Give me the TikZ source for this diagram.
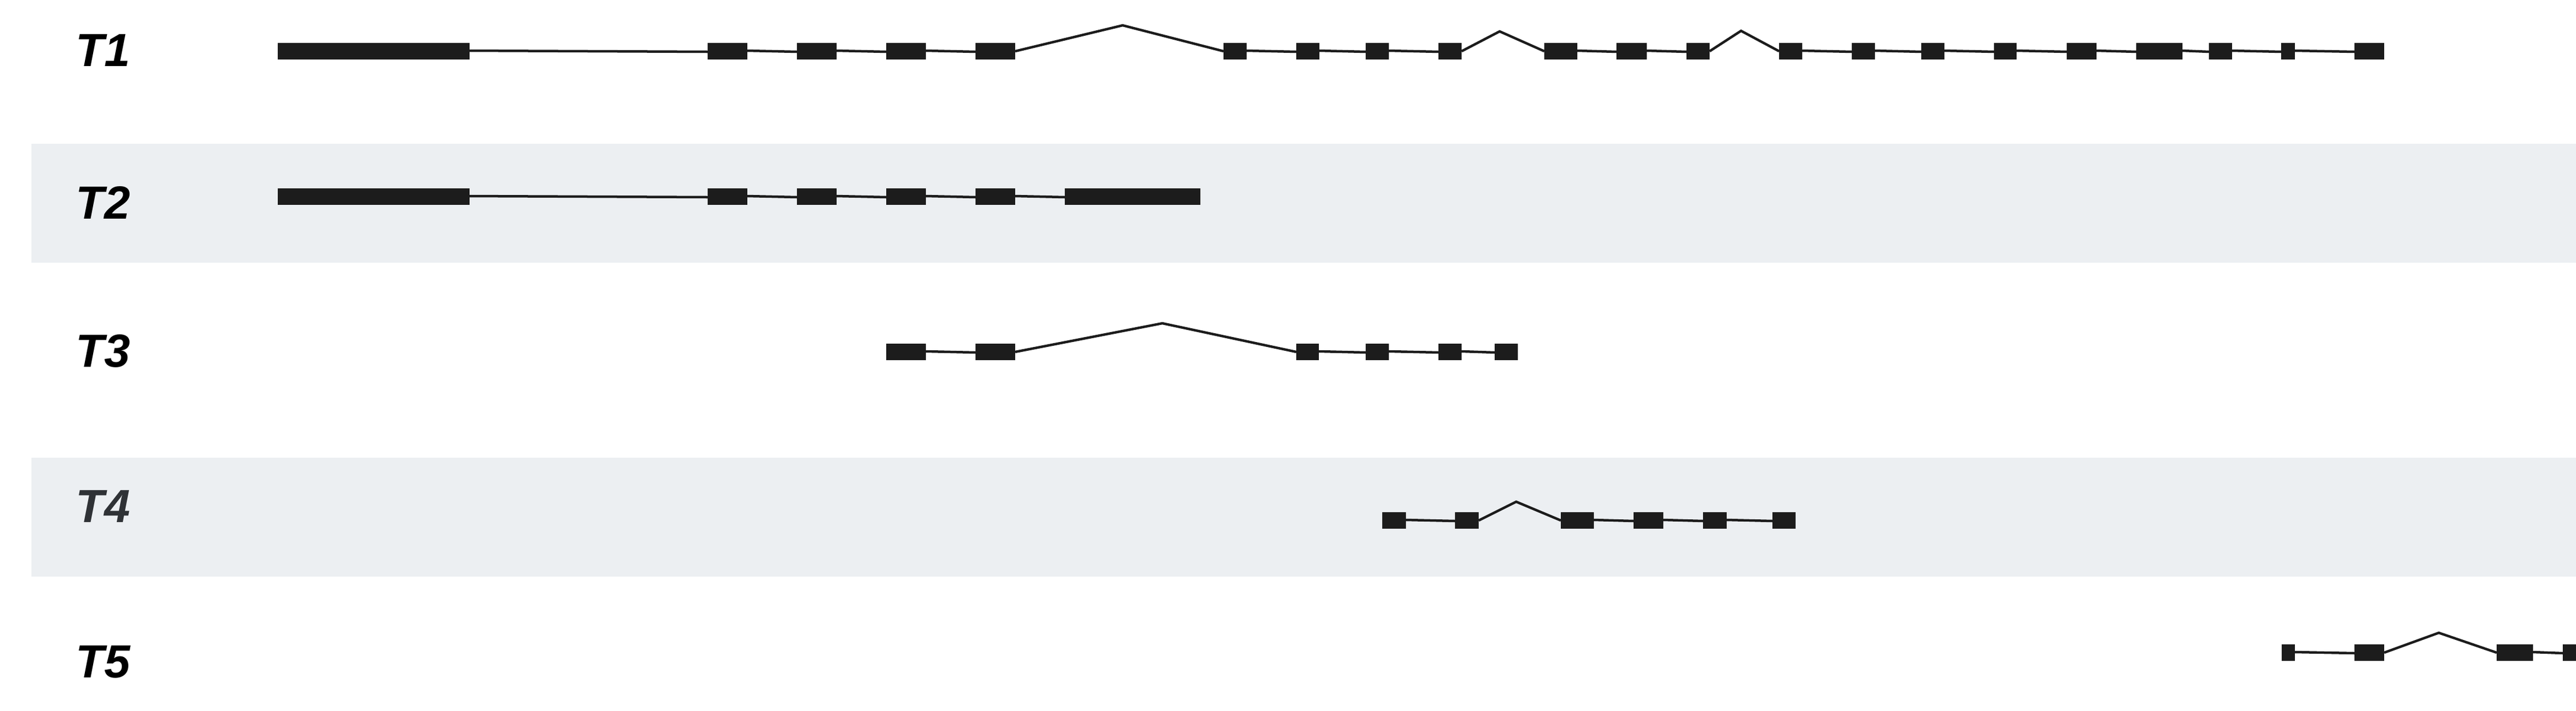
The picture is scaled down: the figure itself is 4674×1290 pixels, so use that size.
\documentclass[tikz,border=0pt]{standalone}
\usepackage{fontspec}
\setmainfont{Liberation Sans}
\definecolor{bandcol}{HTML}{ECEFF2}
\definecolor{exoncol}{HTML}{1C1C1C}
\definecolor{tfourcol}{HTML}{2F3236}
\tikzset{
  exonbox/.style={rectangle, fill=exoncol, draw=none, inner sep=0pt, outer sep=0pt, minimum height=0.3cm},
  intron/.style={draw=exoncol, line width=0.045cm},
  tlabel/.style={anchor=base west, inner sep=0pt, font=\fontsize{24}{29}\selectfont\bfseries\itshape},
  bandfill/.style={fill=bandcol, draw=none}
}
\newcommand\mkexon[4]{\node[exonbox, minimum width={(#3-#2)*0.01cm}] (#1) at ({(#2+#3)/2},#4) {};}
\newcommand\intr[2]{\draw[intron] ([yshift=0.01cm]#1.east) -- ([yshift=-0.01cm]#2.west);}
\newcommand\pkintron[4]{\coordinate (#1) at (#2); \draw[intron] (#3.east) -- (#1) -- (#4.west);}
\begin{document}
\begin{tikzpicture}[x=0.01cm,y=-0.01cm]
\useasboundingbox (0,0) rectangle (4674,1290);
\clip (0,0) rectangle (4674,1290);
\fill[white] (0,0) rectangle (4674,1290);
% bands
\fill[bandfill] (57,261) rectangle (4674,477);
\fill[bandfill] (57,831) rectangle (4674,1047);
% labels
\node[tlabel] (l1) at (137,120) {T1};
\node[tlabel] (l2) at (137,397) {T2};
\node[tlabel] (l3) at (137,666) {T3};
\node[tlabel, text=tfourcol] (l4) at (137,948) {T4};
\node[tlabel] (l5) at (137,1230) {T5};
% T1
\mkexon{a1}{504}{852}{93}
\mkexon{a2}{1284}{1356}{93}
\mkexon{a3}{1446}{1518}{93}
\mkexon{a4}{1608}{1680}{93}
\mkexon{a5}{1770}{1842}{93}
\mkexon{a6}{2220}{2262}{93}
\mkexon{a7}{2352}{2394}{93}
\mkexon{a8}{2478}{2520}{93}
\mkexon{a9}{2610}{2652}{93}
\mkexon{a10}{2802}{2862}{93}
\mkexon{a11}{2933}{2988}{93}
\mkexon{a12}{3060}{3102}{93}
\mkexon{a13}{3228}{3270}{93}
\mkexon{a14}{3360}{3402}{93}
\mkexon{a15}{3486}{3528}{93}
\mkexon{a16}{3618}{3659}{93}
\mkexon{a17}{3750}{3804}{93}
\mkexon{a18}{3876}{3960}{93}
\mkexon{a19}{4008}{4050}{93}
\mkexon{a20}{4139}{4164}{93}
\mkexon{a21}{4272}{4326}{93}
\intr{a1}{a2}\intr{a2}{a3}\intr{a3}{a4}\intr{a4}{a5}
\pkintron{pa1}{2037,46}{a5}{a6}
\intr{a6}{a7}\intr{a7}{a8}\intr{a8}{a9}
\pkintron{pa2}{2721,57}{a9}{a10}
\intr{a10}{a11}\intr{a11}{a12}
\pkintron{pa3}{3159,56}{a12}{a13}
\intr{a13}{a14}\intr{a14}{a15}\intr{a15}{a16}\intr{a16}{a17}
\intr{a17}{a18}\intr{a18}{a19}\intr{a19}{a20}\intr{a20}{a21}
% T2
\mkexon{b1}{504}{852}{357}
\mkexon{b2}{1284}{1356}{357}
\mkexon{b3}{1446}{1518}{357}
\mkexon{b4}{1608}{1680}{357}
\mkexon{b5}{1770}{1842}{357}
\mkexon{b6}{1932}{2178}{357}
\intr{b1}{b2}\intr{b2}{b3}\intr{b3}{b4}\intr{b4}{b5}\intr{b5}{b6}
% T3
\mkexon{c1}{1608}{1680}{639}
\mkexon{c2}{1770}{1842}{639}
\mkexon{c3}{2352}{2393}{639}
\mkexon{c4}{2478}{2520}{639}
\mkexon{c5}{2610}{2652}{639}
\mkexon{c6}{2712}{2754}{639}
\intr{c1}{c2}
\pkintron{pc1}{2109,587}{c2}{c3}
\intr{c3}{c4}\intr{c4}{c5}\intr{c5}{c6}
% T4
\mkexon{d1}{2508}{2551}{945}
\mkexon{d2}{2640}{2683}{945}
\mkexon{d3}{2832}{2892}{945}
\mkexon{d4}{2964}{3018}{945}
\mkexon{d5}{3090}{3133}{945}
\mkexon{d6}{3216}{3258}{945}
\intr{d1}{d2}
\pkintron{pd1}{2751,911}{d2}{d3}
\intr{d3}{d4}\intr{d4}{d5}\intr{d5}{d6}
% T5
\mkexon{e1}{4140}{4164}{1185}
\mkexon{e2}{4272}{4326}{1185}
\mkexon{e3}{4530}{4596}{1185}
\mkexon{e4}{4650}{4710}{1185}
\intr{e1}{e2}
\pkintron{pe1}{4425,1149}{e2}{e3}
\intr{e3}{e4}
\end{tikzpicture}
\end{document}
